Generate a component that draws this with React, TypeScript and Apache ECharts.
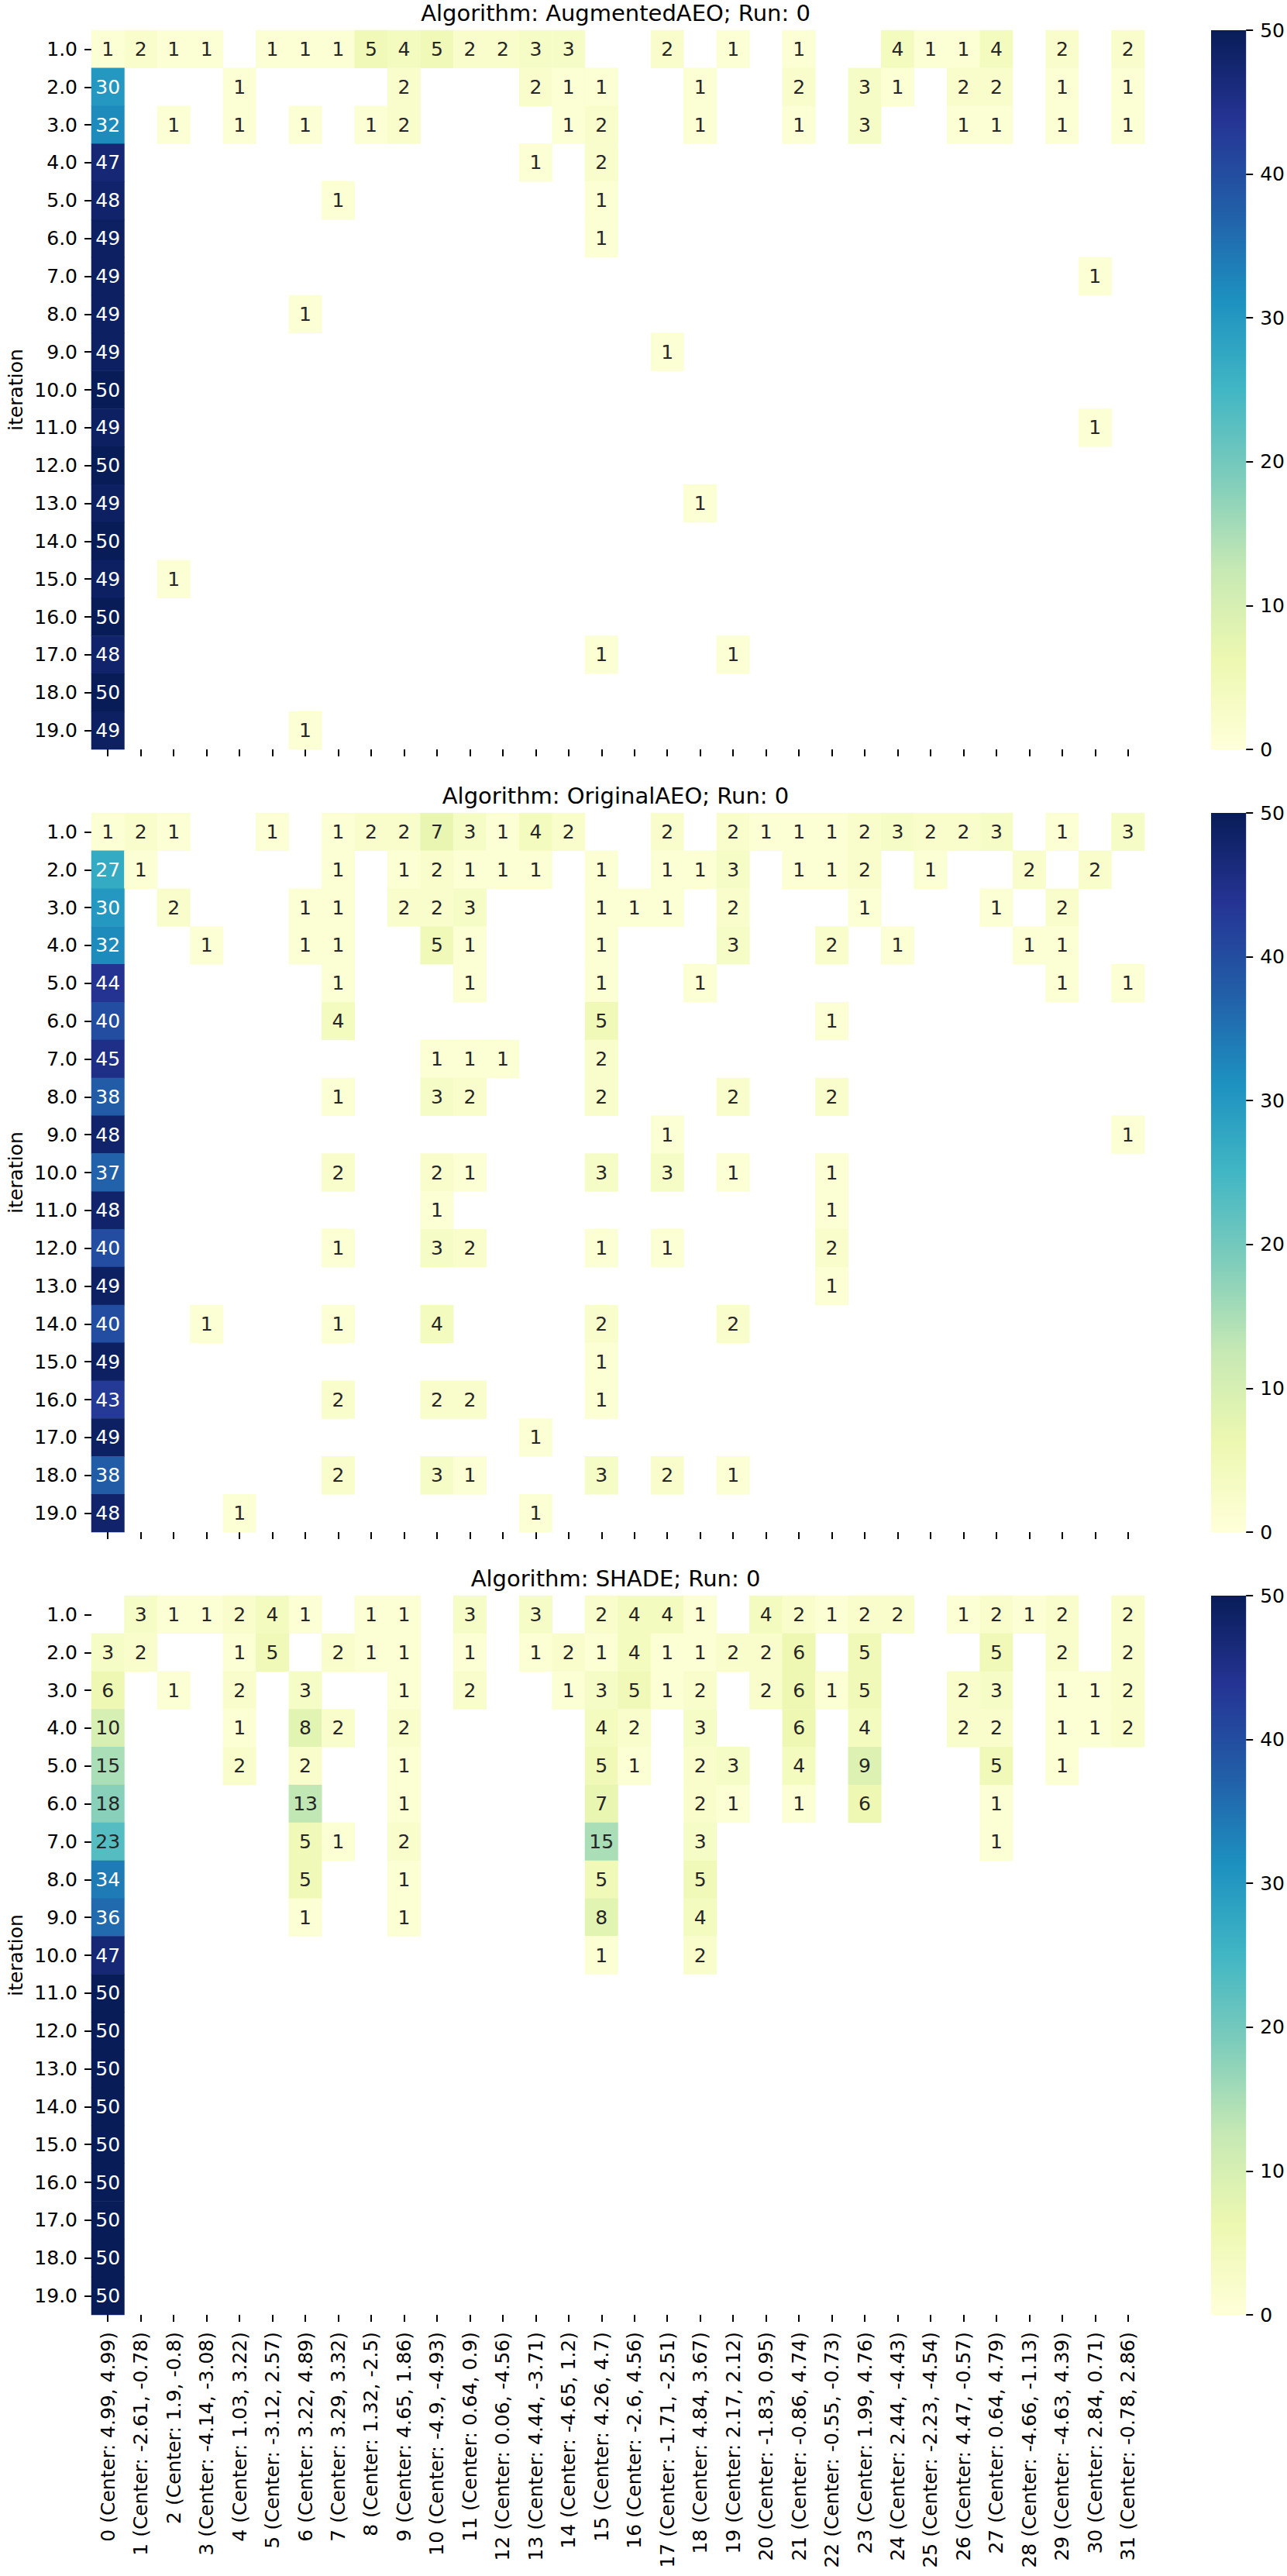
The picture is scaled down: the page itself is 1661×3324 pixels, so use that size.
import React, { useEffect, useRef } from "react";
import * as echarts from "echarts";

const FONT = "DejaVu Sans";

const panelTitles = [
  "Algorithm: AugmentedAEO; Run: 0",
  "Algorithm: OriginalAEO; Run: 0",
  "Algorithm: SHADE; Run: 0",
];

const iterationLabels = [
  "1.0", "2.0", "3.0", "4.0", "5.0", "6.0", "7.0", "8.0", "9.0", "10.0",
  "11.0", "12.0", "13.0", "14.0", "15.0", "16.0", "17.0", "18.0", "19.0",
];

const clusterLabels = [
  "0 (Center: 4.99, 4.99)",
  "1 (Center: -2.61, -0.78)",
  "2 (Center: 1.9, -0.8)",
  "3 (Center: -4.14, -3.08)",
  "4 (Center: 1.03, 3.22)",
  "5 (Center: -3.12, 2.57)",
  "6 (Center: 3.22, 4.89)",
  "7 (Center: 3.29, 3.32)",
  "8 (Center: 1.32, -2.5)",
  "9 (Center: 4.65, 1.86)",
  "10 (Center: -4.9, -4.93)",
  "11 (Center: 0.64, 0.9)",
  "12 (Center: 0.06, -4.56)",
  "13 (Center: 4.44, -3.71)",
  "14 (Center: -4.65, 1.2)",
  "15 (Center: 4.26, 4.7)",
  "16 (Center: -2.6, 4.56)",
  "17 (Center: -1.71, -2.51)",
  "18 (Center: 4.84, 3.67)",
  "19 (Center: 2.17, 2.12)",
  "20 (Center: -1.83, 0.95)",
  "21 (Center: -0.86, 4.74)",
  "22 (Center: -0.55, -0.73)",
  "23 (Center: 1.99, 4.76)",
  "24 (Center: 2.44, -4.43)",
  "25 (Center: -2.23, -4.54)",
  "26 (Center: 4.47, -0.57)",
  "27 (Center: 0.64, 4.79)",
  "28 (Center: -4.66, -1.13)",
  "29 (Center: -4.63, 4.39)",
  "30 (Center: 2.84, 0.71)",
  "31 (Center: -0.78, 2.86)",
];

// One row per iteration; each entry is [cluster index, count]. Zero counts are blank cells.
const augmentedAEO: number[][][] = [
  [[0, 1], [1, 2], [2, 1], [3, 1], [5, 1], [6, 1], [7, 1], [8, 5], [9, 4], [10, 5], [11, 2], [12, 2], [13, 3], [14, 3], [17, 2], [19, 1], [21, 1], [24, 4], [25, 1], [26, 1], [27, 4], [29, 2], [31, 2]],
  [[0, 30], [4, 1], [9, 2], [13, 2], [14, 1], [15, 1], [18, 1], [21, 2], [23, 3], [24, 1], [26, 2], [27, 2], [29, 1], [31, 1]],
  [[0, 32], [2, 1], [4, 1], [6, 1], [8, 1], [9, 2], [14, 1], [15, 2], [18, 1], [21, 1], [23, 3], [26, 1], [27, 1], [29, 1], [31, 1]],
  [[0, 47], [13, 1], [15, 2]],
  [[0, 48], [7, 1], [15, 1]],
  [[0, 49], [15, 1]],
  [[0, 49], [30, 1]],
  [[0, 49], [6, 1]],
  [[0, 49], [17, 1]],
  [[0, 50]],
  [[0, 49], [30, 1]],
  [[0, 50]],
  [[0, 49], [18, 1]],
  [[0, 50]],
  [[0, 49], [2, 1]],
  [[0, 50]],
  [[0, 48], [15, 1], [19, 1]],
  [[0, 50]],
  [[0, 49], [6, 1]],
];

const originalAEO: number[][][] = [
  [[0, 1], [1, 2], [2, 1], [5, 1], [7, 1], [8, 2], [9, 2], [10, 7], [11, 3], [12, 1], [13, 4], [14, 2], [17, 2], [19, 2], [20, 1], [21, 1], [22, 1], [23, 2], [24, 3], [25, 2], [26, 2], [27, 3], [29, 1], [31, 3]],
  [[0, 27], [1, 1], [7, 1], [9, 1], [10, 2], [11, 1], [12, 1], [13, 1], [15, 1], [17, 1], [18, 1], [19, 3], [21, 1], [22, 1], [23, 2], [25, 1], [28, 2], [30, 2]],
  [[0, 30], [2, 2], [6, 1], [7, 1], [9, 2], [10, 2], [11, 3], [15, 1], [16, 1], [17, 1], [19, 2], [23, 1], [27, 1], [29, 2]],
  [[0, 32], [3, 1], [6, 1], [7, 1], [10, 5], [11, 1], [15, 1], [19, 3], [22, 2], [24, 1], [28, 1], [29, 1]],
  [[0, 44], [7, 1], [11, 1], [15, 1], [18, 1], [29, 1], [31, 1]],
  [[0, 40], [7, 4], [15, 5], [22, 1]],
  [[0, 45], [10, 1], [11, 1], [12, 1], [15, 2]],
  [[0, 38], [7, 1], [10, 3], [11, 2], [15, 2], [19, 2], [22, 2]],
  [[0, 48], [17, 1], [31, 1]],
  [[0, 37], [7, 2], [10, 2], [11, 1], [15, 3], [17, 3], [19, 1], [22, 1]],
  [[0, 48], [10, 1], [22, 1]],
  [[0, 40], [7, 1], [10, 3], [11, 2], [15, 1], [17, 1], [22, 2]],
  [[0, 49], [22, 1]],
  [[0, 40], [3, 1], [7, 1], [10, 4], [15, 2], [19, 2]],
  [[0, 49], [15, 1]],
  [[0, 43], [7, 2], [10, 2], [11, 2], [15, 1]],
  [[0, 49], [13, 1]],
  [[0, 38], [7, 2], [10, 3], [11, 1], [15, 3], [17, 2], [19, 1]],
  [[0, 48], [4, 1], [13, 1]],
];

const shade: number[][][] = [
  [[1, 3], [2, 1], [3, 1], [4, 2], [5, 4], [6, 1], [8, 1], [9, 1], [11, 3], [13, 3], [15, 2], [16, 4], [17, 4], [18, 1], [20, 4], [21, 2], [22, 1], [23, 2], [24, 2], [26, 1], [27, 2], [28, 1], [29, 2], [31, 2]],
  [[0, 3], [1, 2], [4, 1], [5, 5], [7, 2], [8, 1], [9, 1], [11, 1], [13, 1], [14, 2], [15, 1], [16, 4], [17, 1], [18, 1], [19, 2], [20, 2], [21, 6], [23, 5], [27, 5], [29, 2], [31, 2]],
  [[0, 6], [2, 1], [4, 2], [6, 3], [9, 1], [11, 2], [14, 1], [15, 3], [16, 5], [17, 1], [18, 2], [20, 2], [21, 6], [22, 1], [23, 5], [26, 2], [27, 3], [29, 1], [30, 1], [31, 2]],
  [[0, 10], [4, 1], [6, 8], [7, 2], [9, 2], [15, 4], [16, 2], [18, 3], [21, 6], [23, 4], [26, 2], [27, 2], [29, 1], [30, 1], [31, 2]],
  [[0, 15], [4, 2], [6, 2], [9, 1], [15, 5], [16, 1], [18, 2], [19, 3], [21, 4], [23, 9], [27, 5], [29, 1]],
  [[0, 18], [6, 13], [9, 1], [15, 7], [18, 2], [19, 1], [21, 1], [23, 6], [27, 1]],
  [[0, 23], [6, 5], [7, 1], [9, 2], [15, 15], [18, 3], [27, 1]],
  [[0, 34], [6, 5], [9, 1], [15, 5], [18, 5]],
  [[0, 36], [6, 1], [9, 1], [15, 8], [18, 4]],
  [[0, 47], [15, 1], [18, 2]],
  [[0, 50]],
  [[0, 50]],
  [[0, 50]],
  [[0, 50]],
  [[0, 50]],
  [[0, 50]],
  [[0, 50]],
  [[0, 50]],
  [[0, 50]],
];

const COLOR_MIN = 0;
const COLOR_MAX = 50;
const ylGnBu = ["#ffffd9", "#edf8b1", "#c7e9b4", "#7fcdbb", "#41b6c4", "#1d91c0", "#225ea8", "#253494", "#081d58"];

// layout
const GRID_LEFT = 112;
const GRID_W = 1365;
const PANEL_TOPS = [39, 1049, 2059];
const PANEL_H = 928;
const CBAR_LEFT = 1563;
const CBAR_W = 47;

function hexToRgb(h: string) {
  return [parseInt(h.slice(1, 3), 16), parseInt(h.slice(3, 5), 16), parseInt(h.slice(5, 7), 16)];
}

function cmap(v: number) {
  const t = Math.max(0, Math.min(1, (v - COLOR_MIN) / (COLOR_MAX - COLOR_MIN))) * (ylGnBu.length - 1);
  const i = Math.min(ylGnBu.length - 2, Math.floor(t));
  const f = t - i;
  const a = hexToRgb(ylGnBu[i]);
  const b = hexToRgb(ylGnBu[i + 1]);
  return a.map((x, k) => x + (b[k] - x) * f);
}

function textColor(v: number) {
  const lin = cmap(v).map((c) => {
    const s = c / 255;
    return s <= 0.03928 ? s / 12.92 : Math.pow((s + 0.055) / 1.055, 2.4);
  });
  const lum = 0.2126 * lin[0] + 0.7152 * lin[1] + 0.0722 * lin[2];
  return lum > 0.408 ? "#262626" : "#ffffff";
}

function buildOption() {
  const panels = [augmentedAEO, originalAEO, shade];
  const grid: any[] = [];
  const xAxis: any[] = [];
  const yAxis: any[] = [];
  const series: any[] = [];
  const graphic: any[] = [];
  const tickStyle = { color: "#000", width: 2 };

  panels.forEach((rows, i) => {
    const top = PANEL_TOPS[i];
    grid.push({ left: GRID_LEFT, top, width: GRID_W, height: PANEL_H });
    xAxis.push({
      type: "category",
      gridIndex: i,
      data: clusterLabels,
      position: "bottom",
      axisLine: { show: false },
      axisTick: { show: true, alignWithLabel: true, length: 9, lineStyle: tickStyle },
      axisLabel: {
        show: i === 2,
        interval: 0,
        rotate: 90,
        fontSize: 25,
        fontFamily: FONT,
        color: "#000",
        margin: 22,
      },
      splitLine: { show: false },
    });
    yAxis.push({
      type: "category",
      gridIndex: i,
      data: iterationLabels,
      inverse: true,
      axisLine: { show: false },
      axisTick: { show: true, alignWithLabel: true, length: 9, lineStyle: tickStyle },
      axisLabel: { interval: 0, fontSize: 25, fontFamily: FONT, color: "#000", margin: 18 },
      splitLine: { show: false },
      name: "iteration",
      nameLocation: "middle",
      nameGap: 85,
      nameRotate: 90,
      nameTextStyle: { fontSize: 25, fontFamily: FONT, color: "#000" },
    });
    const data: any[] = [];
    rows.forEach((row, r) =>
      row.forEach(([c, v]) => {
        data.push({ value: [c, r, v], label: { color: textColor(v) } });
      })
    );
    series.push({
      type: "heatmap",
      xAxisIndex: i,
      yAxisIndex: i,
      data,
      silent: true,
      emphasis: { disabled: true },
      label: {
        show: true,
        fontSize: 25,
        fontFamily: FONT,
        formatter: (p: any) => String(p.value[2]),
      },
    });
    graphic.push({
      type: "text",
      x: GRID_LEFT + GRID_W / 2,
      y: top - 22,
      style: {
        text: panelTitles[i],
        fontSize: 29,
        fontFamily: FONT,
        fill: "#000",
        align: "center",
        verticalAlign: "middle",
      },
    });
  });

  const gradient = new echarts.graphic.LinearGradient(
    0, 1, 0, 0,
    ylGnBu.map((c, k) => ({ offset: k / (ylGnBu.length - 1), color: c }))
  );

  PANEL_TOPS.forEach((top, i) => {
    const gi = 3 + i;
    grid.push({ left: CBAR_LEFT, top, width: CBAR_W, height: PANEL_H });
    xAxis.push({ type: "category", gridIndex: gi, data: [""], show: false });
    yAxis.push({
      type: "value",
      gridIndex: gi,
      min: COLOR_MIN,
      max: COLOR_MAX,
      interval: 10,
      position: "right",
      axisLine: { show: false },
      axisTick: { show: true, length: 9, lineStyle: tickStyle },
      axisLabel: { fontSize: 25, fontFamily: FONT, color: "#000", margin: 18 },
      splitLine: { show: false },
    });
    series.push({
      type: "bar",
      xAxisIndex: gi,
      yAxisIndex: gi,
      data: [COLOR_MAX],
      barWidth: "100%",
      silent: true,
      itemStyle: { color: gradient },
    });
  });

  return {
    animation: false,
    backgroundColor: "#ffffff",
    textStyle: { fontFamily: FONT },
    grid,
    xAxis,
    yAxis,
    visualMap: {
      type: "continuous",
      show: false,
      min: COLOR_MIN,
      max: COLOR_MAX,
      seriesIndex: [0, 1, 2],
      inRange: { color: ylGnBu },
    },
    series,
    graphic,
  };
}

export default function App() {
  const ref = useRef<HTMLDivElement>(null);
  useEffect(() => {
    if (!ref.current) return;
    const chart = echarts.init(ref.current, undefined, { renderer: "svg" });
    chart.setOption(buildOption() as any);
    return () => chart.dispose();
  }, []);
  return (
    <div
      ref={ref}
      style={{ position: "absolute", left: 0, top: 0, width: 1661, height: 3324, background: "#fff" }}
    />
  );
}
